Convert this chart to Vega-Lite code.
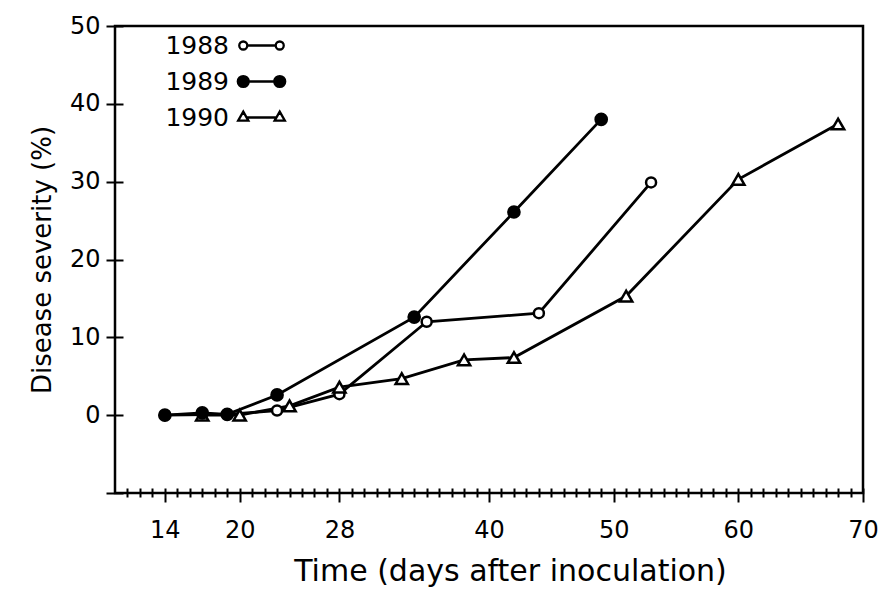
{
  "$schema": "https://vega.github.io/schema/vega-lite/v6.json",
  "width": 748,
  "height": 467,
  "autosize": {"type": "none"},
  "padding": {"left": 115, "top": 26, "right": 20, "bottom": 98},
  "background": "white",
  "config": {
    "font": "DejaVu Sans",
    "view": {"stroke": "black", "strokeWidth": 2.5},
    "axis": {"grid": false, "domain": false, "tickColor": "black", "tickWidth": 2, "labelColor": "black", "titleColor": "black", "labelFontWeight": "normal", "titleFontWeight": "normal"},
    "legend": {
      "orient": "none", "legendX": 127, "legendY": 0, "title": null,
      "symbolSize": 1330, "labelFontSize": 25, "labelColor": "black",
      "symbolStrokeWidth": 2.3, "symbolOpacity": 1,
      "labelAlign": "right", "labelOffset": -52, "rowPadding": 3, "padding": 0
    }
  },
  "data": {
    "values": [
      {"year": "1988", "day": 14, "sev": 0},
      {"year": "1988", "day": 19, "sev": 0.1},
      {"year": "1988", "day": 23, "sev": 0.6},
      {"year": "1988", "day": 28, "sev": 2.7},
      {"year": "1988", "day": 35, "sev": 12.0},
      {"year": "1988", "day": 44, "sev": 13.1},
      {"year": "1988", "day": 53, "sev": 29.9},
      {"year": "1990", "day": 17, "sev": 0},
      {"year": "1990", "day": 20, "sev": 0},
      {"year": "1990", "day": 24, "sev": 1.2},
      {"year": "1990", "day": 28, "sev": 3.6},
      {"year": "1990", "day": 33, "sev": 4.7},
      {"year": "1990", "day": 38, "sev": 7.1},
      {"year": "1990", "day": 42, "sev": 7.4},
      {"year": "1990", "day": 51, "sev": 15.3},
      {"year": "1990", "day": 60, "sev": 30.3},
      {"year": "1990", "day": 68, "sev": 37.4},
      {"year": "1989", "day": 14, "sev": 0},
      {"year": "1989", "day": 17, "sev": 0.3},
      {"year": "1989", "day": 19, "sev": 0.1},
      {"year": "1989", "day": 23, "sev": 2.6},
      {"year": "1989", "day": 34, "sev": 12.6},
      {"year": "1989", "day": 42, "sev": 26.1},
      {"year": "1989", "day": 49, "sev": 38.0}
    ]
  },
  "encoding": {
    "x": {
      "field": "day", "type": "quantitative",
      "scale": {"domain": [10, 70], "nice": false, "zero": false},
      "axis": {
        "title": "Time (days after inoculation)",
        "values": [11,12,13,14,15,16,17,18,19,20,21,22,23,24,25,26,27,28,29,30,31,32,33,34,35,36,37,38,39,40,41,42,43,44,45,46,47,48,49,50,51,52,53,54,55,56,57,58,59,60,61,62,63,64,65,66,67,68,69,70],
        "labelExpr": "indexof([14,20,28,40,50,60,70], datum.value) >= 0 ? datum.label : ''",
        "labelOverlap": false,
        "labelFlush": false,
        "offset": -5,
        "tickSize": {"condition": {"test": "indexof([14,20,28,40,50,60,70], datum.value) >= 0", "value": 14}, "value": 9},
        "labelPadding": 16,
        "labelFontSize": 24,
        "titleFontSize": 30,
        "titlePadding": 14,
        "titleX": 395
      }
    },
    "y": {
      "field": "sev", "type": "quantitative",
      "scale": {"domain": [-10, 50], "nice": false, "zero": false},
      "axis": {
        "title": "Disease severity (%)",
        "values": [-10, 0, 10, 20, 30, 40, 50],
        "labelExpr": "datum.value < 0 ? '' : datum.label",
        "offset": -8,
        "tickSize": 17,
        "labelPadding": 6,
        "labelFontSize": 24,
        "titleFontSize": 26,
        "titlePadding": 14
      }
    }
  },
  "resolve": {"scale": {"shape": "independent", "fill": "independent", "size": "independent", "stroke": "independent"}},
  "layer": [
    {
      "mark": {"type": "line", "color": "black", "strokeWidth": 2.8},
      "encoding": {"detail": {"field": "year", "type": "nominal"}}
    },
    {
      "mark": {"type": "point", "filled": true, "stroke": "black", "strokeWidth": 2.5, "opacity": 1},
      "encoding": {
        "fill": {
          "field": "year", "type": "nominal",
          "scale": {"domain": ["1988", "1989", "1990"], "range": ["white", "black", "white"]},
          "legend": null
        },
        "shape": {
          "field": "year", "type": "nominal",
          "scale": {"domain": ["1988", "1989", "1990"], "range": ["circle", "circle", "triangle-up"]},
          "legend": null
        },
        "size": {
          "field": "year", "type": "nominal",
          "scale": {"domain": ["1988", "1989", "1990"], "range": [100, 150, 110]},
          "legend": null
        }
      }
    },
    {
      "transform": [{"filter": "datum.day < 0"}],
      "mark": {"type": "point", "filled": true, "strokeWidth": 2.3, "opacity": 1},
      "encoding": {
        "fill": {
          "field": "year", "type": "nominal",
          "scale": {"domain": ["1988", "1989", "1990"], "range": ["white", "black", "white"]},
          "legend": {}
        },
        "stroke": {
          "field": "year", "type": "nominal",
          "scale": {"domain": ["1988", "1989", "1990"], "range": ["black", "black", "black"]},
          "legend": {}
        },
        "shape": {
          "field": "year", "type": "nominal",
          "scale": {"domain": ["1988", "1989", "1990"], "range": [
            "M -0.78 0 L 0.78 0 M -0.78 0 A 0.22 0.22 0 1 1 -1.22 0 A 0.22 0.22 0 1 1 -0.78 0 Z M 1.22 0 A 0.22 0.22 0 1 1 0.78 0 A 0.22 0.22 0 1 1 1.22 0 Z",
            "M -0.7 0 L 0.7 0 M -0.7 0 A 0.3 0.3 0 1 1 -1.3 0 A 0.3 0.3 0 1 1 -0.7 0 Z M 1.3 0 A 0.3 0.3 0 1 1 0.7 0 A 0.3 0.3 0 1 1 1.3 0 Z",
            "M -0.82 0 L 0.82 0 M -1 -0.32 L -0.72 0.17 L -1.28 0.17 Z M 1 -0.32 L 1.28 0.17 L 0.72 0.17 Z"
          ]},
          "legend": {}
        }
      }
    }
  ]
}
